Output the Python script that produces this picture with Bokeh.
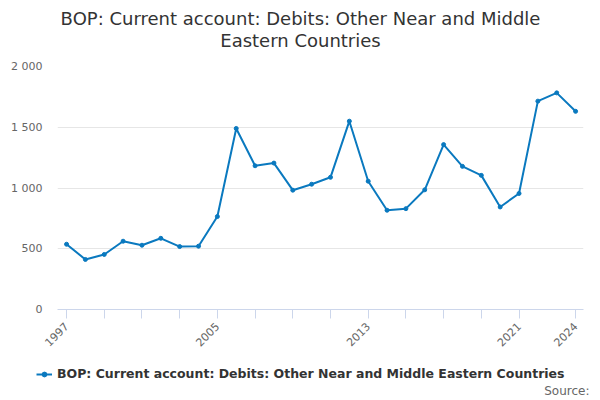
import math
from bokeh.plotting import figure
from bokeh.layouts import column
from bokeh.models import (Range1d, FixedTicker, CustomJSTickFormatter, Legend, LegendItem, Label)
from bokeh.embed import file_html
from bokeh.resources import INLINE

years = list(range(1997, 2025))
values = [537, 412, 453, 562, 529, 586, 518, 521, 765, 1490, 1183, 1205, 982,
          1031, 1088, 1550, 1056, 817, 830, 985, 1357, 1178, 1104, 844, 955,
          1715, 1783, 1631]
x_ticks = list(range(1997, 2022, 2)) + [2024]
x_labelled = [1997, 2005, 2013, 2021, 2024]
y_ticks = [0, 500, 1000, 1500, 2000]

title_line1 = "BOP: Current account: Debits: Other Near and Middle"
title_line2 = "Eastern Countries"
series_name = "BOP: Current account: Debits: Other Near and Middle Eastern Countries"
source_text = "Source:"

FONT = "DejaVu Sans"
COLOR = "#0a79bf"


def strip(h):
    f = figure(width=600, height=h, output_backend="svg", toolbar_location=None,
               x_range=Range1d(0, 1), y_range=Range1d(0, 1),
               min_border_left=0, min_border_right=0, min_border_top=0, min_border_bottom=0,
               title=None)
    f.axis.visible = False
    f.grid.visible = False
    f.outline_line_color = None
    return f


# title strip
t = strip(56)
for txt, yy in [(title_line1, 38), (title_line2, 16)]:
    t.add_layout(Label(x=300, y=yy, x_units="screen", y_units="screen", text=txt,
                       text_align="center", text_baseline="middle", text_font=FONT,
                       text_font_size="18px", text_color="#333333"))

# main chart
p = figure(width=600, height=296, output_backend="svg", toolbar_location=None,
           x_range=Range1d(1996.52, 2024.42), y_range=Range1d(0, 2000),
           min_border_left=57, min_border_right=17, min_border_top=10, min_border_bottom=40,
           title=None)
p.outline_line_color = None
p.background_fill_color = "white"

r_line = p.line(years, values, line_color=COLOR, line_width=2)
r_pts = p.scatter(years, values, size=4, fill_color=COLOR, line_color=COLOR)

xa = p.xaxis[0]
xa.ticker = FixedTicker(ticks=x_ticks)
xa.major_label_overrides = {t_: (str(t_) if t_ in x_labelled else "") for t_ in x_ticks}
xa.major_label_orientation = math.pi / 4
xa.axis_line_color = "#ccd6eb"
xa.major_tick_line_color = "#ccd6eb"
xa.major_tick_in = 0
xa.major_tick_out = 9
xa.minor_tick_line_color = None
xa.major_label_text_font = FONT
xa.major_label_text_font_size = "11px"
xa.major_label_text_color = "#666666"
xa.major_label_standoff = 6
p.xgrid.grid_line_color = None

ya = p.yaxis[0]
ya.ticker = FixedTicker(ticks=y_ticks)
ya.formatter = CustomJSTickFormatter(code="return tick.toFixed(0).replace(/\\B(?=(\\d{3})+(?!\\d))/g, ' ');")
ya.axis_line_color = None
ya.major_tick_line_color = None
ya.minor_tick_line_color = None
ya.major_label_text_font = FONT
ya.major_label_text_font_size = "11px"
ya.major_label_text_color = "#666666"
ya.major_label_standoff = 9
p.ygrid.grid_line_color = "#e6e6e6"

# legend + source strip (series drawn out of view so the legend key has real styling)
q = strip(48)
lr = q.line(years, values, line_color=COLOR, line_width=2)
ls = q.scatter(years, values, size=4, fill_color=COLOR, line_color=COLOR)
legend = Legend(items=[LegendItem(label=series_name, renderers=[lr, ls])],
                orientation="horizontal", location=(36, 19),
                label_text_font=FONT, label_text_font_size="12.5px",
                label_text_font_style="bold", label_text_color="#333333",
                border_line_color=None, background_fill_alpha=0,
                glyph_width=16, glyph_height=12, label_standoff=5, padding=0, margin=0)
q.add_layout(legend, "center")
q.add_layout(Label(x=589, y=10, x_units="screen", y_units="screen", text=source_text,
                   text_align="right", text_baseline="middle", text_font=FONT,
                   text_font_size="12px", text_color="#666666"))

for fig in (t, p, q):
    if "frame_align" in fig.properties():
        fig.frame_align = False

layout = column(t, p, q, spacing=0)
open("out.html", "w").write(file_html(layout, INLINE))
